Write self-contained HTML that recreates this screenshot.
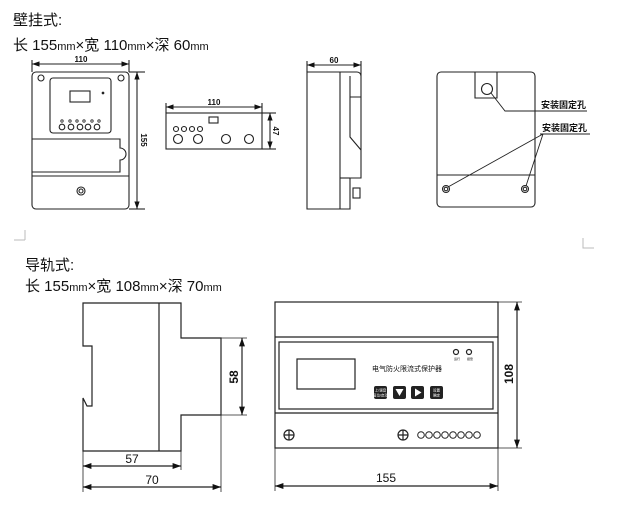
<!DOCTYPE html>
<html><head><meta charset="utf-8"><style>
html,body{margin:0;padding:0;background:#fff;}
svg{display:block;}
.t{font-family:"Liberation Sans","Noto Sans CJK SC",sans-serif;fill:#111;}
</style></head><body>
<svg width="629" height="510" viewBox="0 0 629 510" xmlns="http://www.w3.org/2000/svg">
<defs>
<marker id="a" viewBox="0 0 10 10" refX="10" refY="5" markerWidth="7" markerHeight="7" orient="auto-start-reverse"><path d="M0,1.5L10,5L0,8.5z" fill="#111"/></marker>
</defs>
<text class="t" x="13" y="25" font-size="15">壁挂式:</text>
<text class="t" x="13" y="50" font-size="15">长 155<tspan font-size="11">mm</tspan>×宽 110<tspan font-size="11">mm</tspan>×深 60<tspan font-size="11">mm</tspan></text>
<text class="t" x="25" y="270" font-size="15">导轨式:</text>
<text class="t" x="25" y="291" font-size="15">长 155<tspan font-size="11">mm</tspan>×宽 108<tspan font-size="11">mm</tspan>×深 70<tspan font-size="11">mm</tspan></text>
<path d="M25,240H14M25,240V230M583,238V248H594" stroke="#bbb" fill="none"/>

<g fill="none" stroke="#222" stroke-width="1.1">
<rect x="32" y="72" width="97" height="137" rx="4"/>
<line x1="32" y1="64" x2="129" y2="64" marker-start="url(#a)" marker-end="url(#a)"/>
<line x1="32" y1="60" x2="32" y2="72"/><line x1="129" y1="60" x2="129" y2="72"/>
<line x1="137" y1="72" x2="137" y2="209" marker-start="url(#a)" marker-end="url(#a)"/>
<line x1="129" y1="72" x2="145" y2="72"/><line x1="129" y1="209" x2="145" y2="209"/>
<circle cx="41" cy="78" r="3"/><circle cx="121" cy="78" r="3"/>
<rect x="50" y="78" width="61" height="55" rx="3"/>
<rect x="70" y="91" width="20" height="11"/>
<circle cx="103" cy="93" r="0.8" fill="#222"/>
<g stroke-width="0.8"><circle cx="62" cy="121" r="1.2"/><circle cx="70" cy="121" r="1.2"/><circle cx="77" cy="121" r="1.2"/><circle cx="84" cy="121" r="1.2"/><circle cx="92" cy="121" r="1.2"/><circle cx="99" cy="121" r="1.2"/></g>
<circle cx="62" cy="127" r="2.8"/><circle cx="71" cy="127" r="2.8"/><circle cx="80" cy="127" r="2.8"/><circle cx="88" cy="127" r="2.8"/><circle cx="97" cy="127" r="2.8"/>
<path d="M32,139H120V148A6,6 0 0 1 120,160V172H32"/>
<line x1="32" y1="176" x2="129" y2="176"/>
<circle cx="81" cy="191" r="4"/><circle cx="81" cy="191" r="2"/>
<rect x="166" y="113" width="96" height="36"/>
<line x1="166" y1="107" x2="262" y2="107" marker-start="url(#a)" marker-end="url(#a)"/>
<line x1="166" y1="103" x2="166" y2="113"/><line x1="262" y1="103" x2="262" y2="113"/>
<rect x="209" y="117" width="9" height="6"/>
<circle cx="176" cy="129" r="2.5"/><circle cx="184" cy="129" r="2.5"/><circle cx="192" cy="129" r="2.5"/><circle cx="200" cy="129" r="2.5"/>
<circle cx="178" cy="139" r="4.5"/><circle cx="198" cy="139" r="4.5"/><circle cx="226" cy="139" r="4.5"/><circle cx="249" cy="139" r="4.5"/>
<line x1="270" y1="113" x2="270" y2="149" marker-start="url(#a)" marker-end="url(#a)"/>
<line x1="262" y1="113" x2="276" y2="113"/><line x1="262" y1="149" x2="276" y2="149"/>
<line x1="307" y1="65" x2="361" y2="65" marker-start="url(#a)" marker-end="url(#a)"/>
<line x1="307" y1="61" x2="307" y2="72"/><line x1="361" y1="61" x2="361" y2="76"/>
<path d="M307,72H357A4,4 0 0 1 361,76V178H350V209H307Z"/>
<line x1="340" y1="72" x2="340" y2="209"/>
<line x1="340" y1="178" x2="350" y2="178"/>
<path d="M350,76V137L361,150M350,97H361"/>
<rect x="353" y="188" width="7" height="10"/>
<rect x="437" y="72" width="98" height="135" rx="4"/>
<path d="M475,72V98H497V72"/>
<circle cx="487" cy="89" r="5.5"/>
<path d="M491,93L505,111H587" stroke-width="0.9"/>
<line x1="437" y1="175" x2="535" y2="175"/>
<circle cx="446" cy="189" r="3.5"/><circle cx="446" cy="189" r="1.8"/>
<circle cx="525" cy="189" r="3.5"/><circle cx="525" cy="189" r="1.8"/>
<path d="M540,134H590M543,134L448,187M543,134L526,186" stroke-width="0.9"/>
</g>
<g class="t" font-size="8" font-weight="bold" text-anchor="middle">
<text x="81" y="62">110</text><text x="214" y="105">110</text><text x="334" y="63">60</text>
<text transform="translate(141,140) rotate(90)">155</text>
<text transform="translate(273,131) rotate(90)">47</text>
</g>
<text class="t" x="541" y="108" font-size="9" font-weight="bold">安装固定孔</text>
<text class="t" x="542" y="131" font-size="9" font-weight="bold">安装固定孔</text>

<g fill="none" stroke="#222" stroke-width="1.2">
<path d="M83,303H181V338H221V415H181V451H83V398L87,406H92V346H83Z"/>
<line x1="159" y1="303" x2="159" y2="451"/>
<line x1="242" y1="338" x2="242" y2="415" marker-start="url(#a)" marker-end="url(#a)"/>
<line x1="221" y1="338" x2="247" y2="338" stroke-width="0.8"/><line x1="221" y1="415" x2="247" y2="415" stroke-width="0.8"/>
<line x1="83" y1="466" x2="181" y2="466" marker-start="url(#a)" marker-end="url(#a)"/>
<line x1="83" y1="487" x2="221" y2="487" marker-start="url(#a)" marker-end="url(#a)"/>
<line x1="83" y1="451" x2="83" y2="492" stroke-width="0.8"/><line x1="181" y1="451" x2="181" y2="470" stroke-width="0.8"/><line x1="221" y1="415" x2="221" y2="492" stroke-width="0.8"/>
<rect x="275" y="302" width="223" height="146"/>
<line x1="275" y1="337" x2="498" y2="337"/><line x1="275" y1="413" x2="498" y2="413"/>
<rect x="279" y="342" width="214" height="67"/>
<rect x="297" y="359" width="58" height="30"/>
<circle cx="456" cy="352" r="2.5"/><circle cx="469" cy="352" r="2.5"/>
<g><circle cx="289" cy="435" r="5"/><path d="M289,430V440M284,435H294"/><circle cx="403" cy="435" r="5"/><path d="M403,430V440M398,435H408"/></g>
<g stroke-width="1"><circle cx="421" cy="435" r="3.3"/><circle cx="429" cy="435" r="3.3"/><circle cx="437" cy="435" r="3.3"/><circle cx="445" cy="435" r="3.3"/><circle cx="453" cy="435" r="3.3"/><circle cx="461" cy="435" r="3.3"/><circle cx="469" cy="435" r="3.3"/><circle cx="477" cy="435" r="3.3"/></g>
<line x1="517" y1="302" x2="517" y2="448" marker-start="url(#a)" marker-end="url(#a)"/>
<line x1="498" y1="302" x2="522" y2="302" stroke-width="0.8"/><line x1="498" y1="448" x2="522" y2="448" stroke-width="0.8"/>
<line x1="275" y1="486" x2="498" y2="486" marker-start="url(#a)" marker-end="url(#a)"/>
<line x1="275" y1="448" x2="275" y2="491" stroke-width="0.8"/><line x1="498" y1="448" x2="498" y2="491" stroke-width="0.8"/>
</g>
<g fill="#222">
<rect x="374" y="386" width="13" height="13" rx="2"/><rect x="393" y="386" width="13" height="13" rx="2"/><rect x="411" y="386" width="13" height="13" rx="2"/><rect x="430" y="386" width="13" height="13" rx="2"/>
</g>
<path d="M395.5,389H403.5L399.5,396Z M415,388.5V396.5L421.5,392.5Z" fill="#fff"/>
<g class="t" font-size="3.5" text-anchor="middle" style="fill:#fff">
<text x="380.5" y="391.5">上/调音</text><text x="380.5" y="396.5">复位/启动</text>
<text x="436.5" y="391.5">设置</text><text x="436.5" y="396.5">确定</text>
</g>
<text class="t" x="372" y="371" font-size="7">电气防火限流式保护器</text>
<text class="t" x="454" y="360" font-size="3">运行</text><text class="t" x="467" y="360" font-size="3">报警</text>
<g class="t" font-size="12" text-anchor="middle">
<text x="132" y="463">57</text><text x="152" y="484">70</text><text x="386" y="482">155</text>
<text transform="translate(238,377) rotate(-90)" font-weight="bold">58</text>
<text transform="translate(513,374) rotate(-90)" font-weight="bold">108</text>
</g>
</svg>
</body></html>
